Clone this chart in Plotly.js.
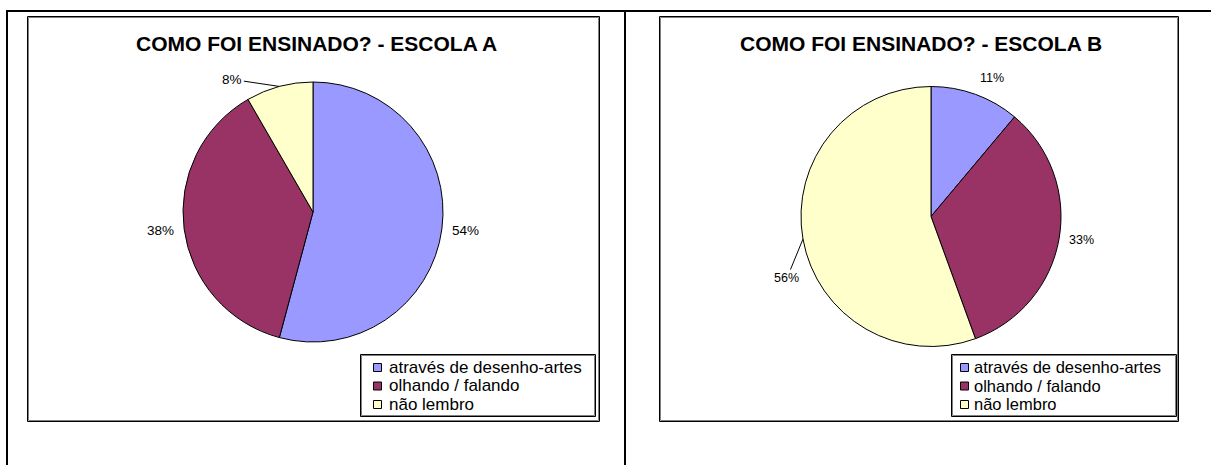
<!DOCTYPE html>
<html>
<head>
<meta charset="utf-8">
<script src="https://cdn.plot.ly/plotly-3.0.1.min.js"></script>
<style>
html, body { margin: 0; padding: 0; background: #ffffff; }
#chart { width: 1211px; height: 465px; }
</style>
</head>
<body>
<div id="chart"></div>
<script>
// ---- data ----
const categories = ['através de desenho-artes', 'olhando / falando', 'não lembro'];
const escolaA = [13, 9, 2];
const escolaB = [1, 3, 5];
const titleA = 'COMO FOI ENSINADO? - ESCOLA A';
const titleB = 'COMO FOI ENSINADO? - ESCOLA B';
const sliceColors = ['#9999FF', '#993366', '#FFFFCC'];

// ---- layout constants (pixels) ----
const W = 1211, H = 465;
const FONT = 'Liberation Sans, Arial, Helvetica, sans-serif';
const X = px => px / W;
const Y = py => 1 - py / H;

const charts = [
  { values: escolaA, title: titleA, box: [27, 16, 600, 422], cx: 313, cy: 212, r: 130,
    titleX: 317, titleY: 43, labelSize: 13.5,
    legendBox: [360, 354, 596, 417], swX: 373, txtX: 389, legSize: 17,
    // manual (dragged) label offsets: [dx, dy] text centre relative to slice edge midpoint
    dragged: { 2: [-47, -7] } },
  { values: escolaB, title: titleB, box: [659, 16, 1179, 422], cx: 931, cy: 216.5, r: 130,
    titleX: 920.5, titleY: 43, labelSize: 12.5,
    legendBox: [951, 354, 1177, 417], swX: 960, txtX: 974, legSize: 16.5,
    dragged: { 2: [-16, 39] } }
];
const legendRows = [367, 385.5, 404];

const data = [];
const shapes = [];
const annotations = [];

// outer table lines
shapes.push({ type: 'line', xref: 'paper', yref: 'paper', x0: X(6), x1: X(1211), y0: Y(11), y1: Y(11), line: { color: '#000', width: 2 } });
shapes.push({ type: 'line', xref: 'paper', yref: 'paper', x0: X(7), x1: X(7), y0: Y(10), y1: Y(465), line: { color: '#000', width: 2 } });
shapes.push({ type: 'line', xref: 'paper', yref: 'paper', x0: X(625), x1: X(625), y0: Y(10), y1: Y(465), line: { color: '#000', width: 2 } });

charts.forEach((c, ci) => {
  const [bx0, by0, bx1, by1] = c.box;
  // chart area box (black outer, grey inner)
  shapes.push({ type: 'rect', xref: 'paper', yref: 'paper', x0: X(bx0 + 0.5), x1: X(bx1 - 0.5), y0: Y(by0 + 0.5), y1: Y(by1 - 0.5), line: { color: '#000', width: 1 } });
  shapes.push({ type: 'rect', xref: 'paper', yref: 'paper', x0: X(bx0 + 1.5), x1: X(bx1 - 1.5), y0: Y(by0 + 1.5), y1: Y(by1 - 1.5), line: { color: '#808080', width: 1 } });

  // pie
  data.push({
    type: 'pie',
    labels: categories,
    values: c.values,
    sort: false,
    direction: 'clockwise',
    rotation: 0,
    textinfo: 'none',
    hoverinfo: 'skip',
    showlegend: false,
    marker: { colors: sliceColors, line: { color: '#000000', width: 1 } },
    domain: { x: [X(c.cx - c.r), X(c.cx + c.r)], y: [Y(c.cy + c.r), Y(c.cy - c.r)] }
  });

  // title
  annotations.push({ xref: 'paper', yref: 'paper', x: X(c.titleX), y: Y(c.titleY), xanchor: 'center', yanchor: 'middle',
    text: '<b>' + c.title + '</b>', showarrow: false, font: { family: FONT, size: 21, color: '#000' } });

  // percentage labels, positioned from the slice angles
  const total = c.values.reduce((a, b) => a + b, 0);
  let cum = 0;
  c.values.forEach((v, i) => {
    const mid = (cum + v / 2) / total * 2 * Math.PI;
    cum += v;
    const pct = Math.round(v / total * 100) + '%';
    const s = Math.sin(mid), co = Math.cos(mid);
    if (c.dragged[i]) {
      const ex = c.cx + c.r * s, ey = c.cy - c.r * co;
      annotations.push({ xref: 'paper', yref: 'paper', x: X(ex), y: Y(ey), ax: c.dragged[i][0], ay: c.dragged[i][1],
        axref: 'pixel', ayref: 'pixel', showarrow: true, arrowhead: 0, arrowwidth: 1, arrowcolor: '#000', standoff: 0,
        text: pct, font: { family: FONT, size: c.labelSize, color: '#000' } });
    } else {
      const g = 8;
      const px = c.cx + (c.r + g) * s, py = c.cy - (c.r + g) * co;
      annotations.push({ xref: 'paper', yref: 'paper', x: X(px), y: Y(py),
        xanchor: s > 0.3 ? 'left' : (s < -0.3 ? 'right' : 'center'),
        yanchor: co > 0.3 ? 'bottom' : (co < -0.3 ? 'top' : 'middle'),
        showarrow: false, text: pct, font: { family: FONT, size: c.labelSize, color: '#000' } });
    }
  });

  // legend (manual, Excel style)
  const [lx0, ly0, lx1, ly1] = c.legendBox;
  shapes.push({ type: 'rect', xref: 'paper', yref: 'paper', x0: X(lx0 + 0.5), x1: X(lx1 - 0.5), y0: Y(ly0 + 0.5), y1: Y(ly1 - 0.5), line: { color: '#000', width: 1 }, fillcolor: '#fff' });
  shapes.push({ type: 'rect', xref: 'paper', yref: 'paper', x0: X(lx0 + 1.5), x1: X(lx1 - 1.5), y0: Y(ly0 + 1.5), y1: Y(ly1 - 1.5), line: { color: '#808080', width: 1 } });
  categories.forEach((cat, i) => {
    const yc = legendRows[i];
    shapes.push({ type: 'rect', xref: 'paper', yref: 'paper', x0: X(c.swX + 0.5), x1: X(c.swX + 8.5), y0: Y(yc - 3.5), y1: Y(yc + 4.5),
      line: { color: '#000', width: 1 }, fillcolor: sliceColors[i] });
    annotations.push({ xref: 'paper', yref: 'paper', x: X(c.txtX), y: Y(yc), xanchor: 'left', yanchor: 'middle',
      xshift: -2, showarrow: false, text: cat, font: { family: FONT, size: c.legSize, color: '#000' } });
  });
});

const layout = {
  width: W, height: H,
  margin: { l: 0, r: 0, t: 0, b: 0, pad: 0 },
  paper_bgcolor: '#ffffff',
  plot_bgcolor: '#ffffff',
  showlegend: false,
  shapes: shapes,
  annotations: annotations,
  font: { family: FONT }
};

Plotly.newPlot('chart', data, layout, { displayModeBar: false, staticPlot: true });
</script>
</body>
</html>
